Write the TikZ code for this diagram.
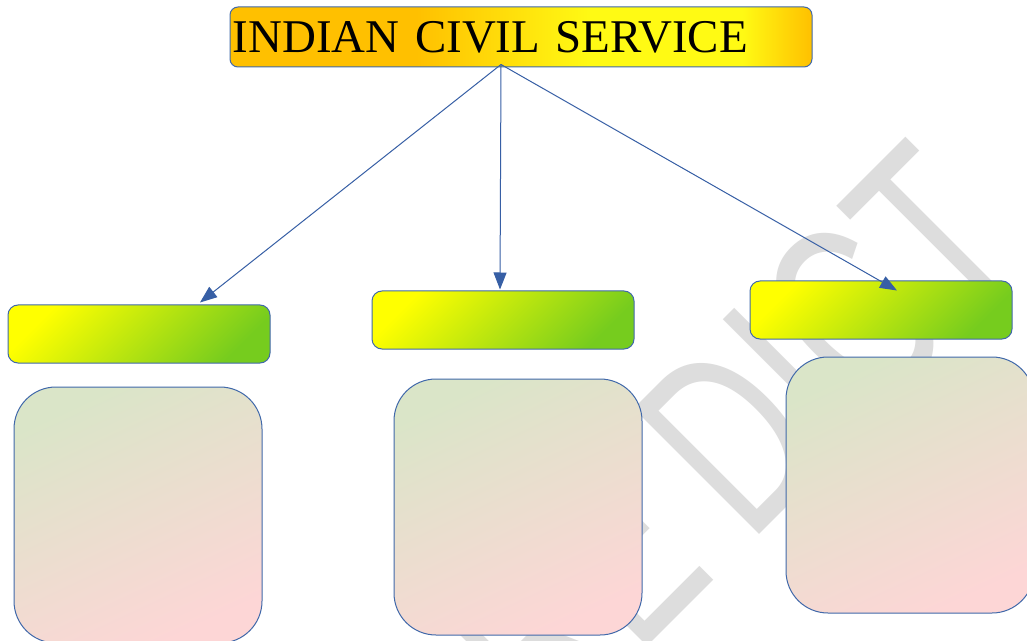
\documentclass[tikz,border=0pt]{standalone}
\usepackage{fontspec}
\setmainfont{Liberation Serif}
\newfontfamily\wmfont{Liberation Sans}
\usetikzlibrary{arrows.meta,calc}
\definecolor{tOrange}{RGB}{255,192,0}
\definecolor{tYellow}{RGB}{255,250,20}
\definecolor{bordercol}{RGB}{65,105,170}
\definecolor{arrcol}{RGB}{55,95,165}
\definecolor{gYellow}{RGB}{255,255,0}
\definecolor{gGreen}{RGB}{118,204,30}
\definecolor{pkTop}{RGB}{218,229,200}
\definecolor{pkMid}{RGB}{236,222,206}
\definecolor{pkBot}{RGB}{253,214,214}
\definecolor{wmgray}{RGB}{221,221,221}
\pgfdeclarehorizontalshading{titleshade}{100bp}{color(0bp)=(tOrange); color(25bp)=(tOrange); color(41bp)=(tOrange); color(56bp)=(tYellow); color(69bp)=(tYellow); color(75bp)=(tOrange); color(100bp)=(tOrange)}
\tikzset{
  titlebox/.style={draw=bordercol, line width=0.75pt, rounded corners=6pt, shading=titleshade,
    minimum width=436.5pt, minimum height=45pt, inner xsep=2pt, inner ysep=0pt,
    text width=432.5pt, align=left, font=\fontsize{35.2}{40}\selectfont},
  gbox/.style={draw=bordercol, line width=0.75pt, rounded corners=7.5pt,
    left color=gYellow, right color=gGreen, shading angle=45,
    minimum width=196.5pt, minimum height=43.5pt, inner sep=0pt},
  bbox/.style={draw=bordercol, line width=0.75pt, rounded corners=31.5pt,
    left color=pkTop, middle color=pkMid, right color=pkBot, shading angle=25,
    minimum width=186pt, minimum height=192pt, inner sep=0pt},
  conn/.style={draw=arrcol, line width=0.75pt, -{Triangle[length=12.75pt,width=9.75pt]}},
  wm/.style={text=wmgray, inner sep=0pt, transform shape, font=\wmfont\fontsize{193.5}{200}\selectfont}
}
\begin{document}
\begin{tikzpicture}[x=0.75pt,y=-0.75pt]
\useasboundingbox (0,0) rectangle (1027,641);
\fill[white] (0,0) rectangle (1027,641);
\clip (0,0) rectangle (1027,641);
% watermark
\begin{scope}[shift={(749,545)}, rotate=45, xscale=0.67]
  \node[wm, anchor=base west] (wmB) at (0,0) {DICT};
  \node[wm, anchor=base east] (wmA) at (-63,0) {PRE};
\end{scope}
% title
\node[titlebox] (title) at (521,37) {INDIAN CIVIL SERVICE};
% green boxes
\node[gbox] (gL) at (139,334) {};
\node[gbox] (gM) at (503,320) {};
\node[gbox] (gR) at (881,310) {};
% big boxes
\node[bbox] (bL) at (138,515) {};
\node[bbox] (bM) at (518,507) {};
\node[bbox] (bR) at (910,485) {};
% connectors
\coordinate (src) at ($(title.south)+(-20,-3)$);
\coordinate (tipL) at ($(gL.north)+(61,-2)$);
\coordinate (tipM) at ($(gM.north)+(-3,-1)$);
\coordinate (tipR) at ($(gR.north)+(16,10)$);
\draw[conn] (src) -- (tipL);
\draw[conn] (src) -- (tipM);
\draw[conn] (src) -- (tipR);
\end{tikzpicture}
\end{document}
